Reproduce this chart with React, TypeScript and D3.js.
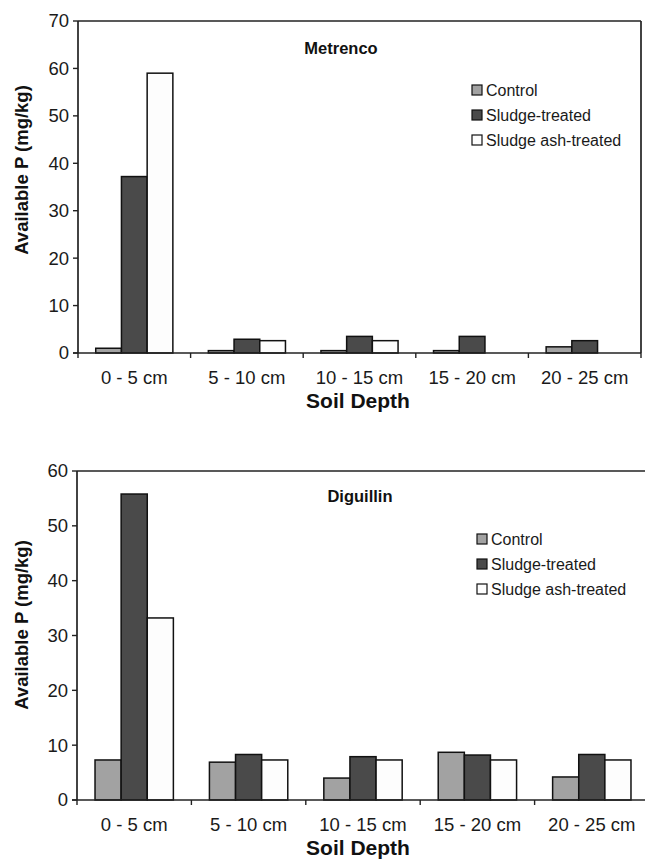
import React from "react";
import * as d3 from "d3";

const categories = ["0 - 5 cm", "5 - 10 cm", "10 - 15 cm", "15 - 20 cm", "20 - 25 cm"];
const seriesNames = ["Control", "Sludge-treated", "Sludge ash-treated"];
const seriesColors = ["#a2a2a2", "#4a4a4a", "#fdfdfd"];

const metrencoControl = [1.0, 0.5, 0.5, 0.5, 1.3];
const metrencoSludge = [37.2, 2.9, 3.5, 3.5, 2.6];
const metrencoAsh = [59.0, 2.6, 2.6, 0, 0];
const metrencoTicks = [0, 10, 20, 30, 40, 50, 60, 70];

const diguillinControl = [7.3, 6.9, 4.0, 8.7, 4.2];
const diguillinSludge = [55.8, 8.3, 7.9, 8.2, 8.3];
const diguillinAsh = [33.2, 7.3, 7.3, 7.3, 7.3];
const diguillinTicks = [0, 10, 20, 30, 40, 50, 60];

const FONT = "'Liberation Sans', Arial, Helvetica, sans-serif";

type PanelProps = {
  title: string;
  series: number[][];
  ticks: number[];
  left: number;
  right: number;
  top: number;
  bottom: number;
  titleX: number;
  titleY: number;
  legendX: number;
  legendY: number;
  yTitleY: number;
  showRight: boolean;
};

function Panel(p: PanelProps) {
  const yMax = p.ticks[p.ticks.length - 1];
  const y = d3.scaleLinear().domain([0, yMax]).range([p.bottom, p.top]);
  const x = d3.scaleBand<string>().domain(categories).range([p.left, p.right]).padding(0);
  const xi = d3
    .scaleBand<string>()
    .domain(seriesNames)
    .range([0, x.bandwidth()])
    .paddingInner(0)
    .paddingOuter(0.69);
  const boundaries = categories.map((c) => x(c) as number).concat([p.right]);
  const axisColor = "#222";
  return (
    <g fontFamily={FONT}>
      {/* plot border (top & right) */}
      <line x1={p.left} x2={p.right} y1={p.top} y2={p.top} stroke={axisColor} strokeWidth={1.7} />
      {p.showRight && (
        <line x1={p.right} x2={p.right} y1={p.top} y2={p.bottom} stroke={axisColor} strokeWidth={1.7} />
      )}
      {/* bars */}
      {categories.map((c, ci) =>
        seriesNames.map((s, si) => {
          const v = p.series[si][ci];
          if (!v) return null;
          const x0 = (x(c) as number) + (xi(s) as number);
          return (
            <rect
              key={c + s}
              x={x0}
              y={y(v)}
              width={xi.bandwidth()}
              height={y(0) - y(v)}
              fill={seriesColors[si]}
              stroke="#111"
              strokeWidth={1.5}
            />
          );
        })
      )}
      {/* y axis */}
      <line x1={p.left} x2={p.left} y1={p.top} y2={p.bottom} stroke={axisColor} strokeWidth={1.7} />
      {p.ticks.map((t) => (
        <g key={t}>
          <line x1={p.left - 5} x2={p.left} y1={y(t)} y2={y(t)} stroke={axisColor} strokeWidth={1.4} />
          <text x={p.left - 9} y={y(t)} dy="0.35em" textAnchor="end" fontSize={18.5} fill="#1a1a1a">
            {t}
          </text>
        </g>
      ))}
      {/* x axis */}
      <line x1={p.left - 5} x2={p.right} y1={p.bottom} y2={p.bottom} stroke={axisColor} strokeWidth={1.7} />
      {boundaries.map((b, i) => (
        <line key={i} x1={b} x2={b} y1={p.bottom} y2={p.bottom + 5} stroke={axisColor} strokeWidth={1.4} />
      ))}
      {categories.map((c) => (
        <text
          key={c}
          x={(x(c) as number) + x.bandwidth() / 2}
          y={p.bottom + 25}
          dy="0.35em"
          textAnchor="middle"
          fontSize={18.5}
          fill="#1a1a1a"
        >
          {c}
        </text>
      ))}
      <text
        x={358}
        y={p.bottom + 48}
        dy="0.35em"
        textAnchor="middle"
        fontSize={21}
        fontWeight="bold"
        fill="#111"
      >
        Soil Depth
      </text>
      <text
        transform={`translate(22,${p.yTitleY}) rotate(-90)`}
        dy="0.35em"
        textAnchor="middle"
        fontSize={18.5}
        fontWeight="bold"
        fill="#111"
      >
        Available P (mg/kg)
      </text>
      {/* title */}
      <text x={p.titleX} y={p.titleY} dy="0.35em" textAnchor="middle" fontSize={16.5} fontWeight="bold" fill="#111">
        {p.title}
      </text>
      {/* legend */}
      {seriesNames.map((s, si) => (
        <g key={s} transform={`translate(${p.legendX},${p.legendY + si * 25})`}>
          <rect x={0} y={-5} width={10} height={10} fill={seriesColors[si]} stroke="#111" strokeWidth={1.2} />
          <text x={14} y={0} dy="0.35em" fontSize={16} fill="#1a1a1a">
            {s}
          </text>
        </g>
      ))}
    </g>
  );
}

export default function App() {
  return (
    <svg
      width={645}
      height={864}
      style={{ position: "absolute", left: 0, top: 0, background: "#fff" }}
    >
      <rect width={645} height={864} fill="#fff" />
      <Panel
        title="Metrenco"
        series={[metrencoControl, metrencoSludge, metrencoAsh]}
        ticks={metrencoTicks}
        left={78}
        right={641}
        top={21}
        bottom={353}
        titleX={341}
        titleY={48}
        legendX={472}
        legendY={90}
        yTitleY={170}
        showRight={true}
      />
      <Panel
        title="Diguillin"
        series={[diguillinControl, diguillinSludge, diguillinAsh]}
        ticks={diguillinTicks}
        left={77}
        right={649}
        top={471}
        bottom={800}
        titleX={360}
        titleY={496}
        legendX={477}
        legendY={539}
        yTitleY={625}
        showRight={false}
      />
    </svg>
  );
}
